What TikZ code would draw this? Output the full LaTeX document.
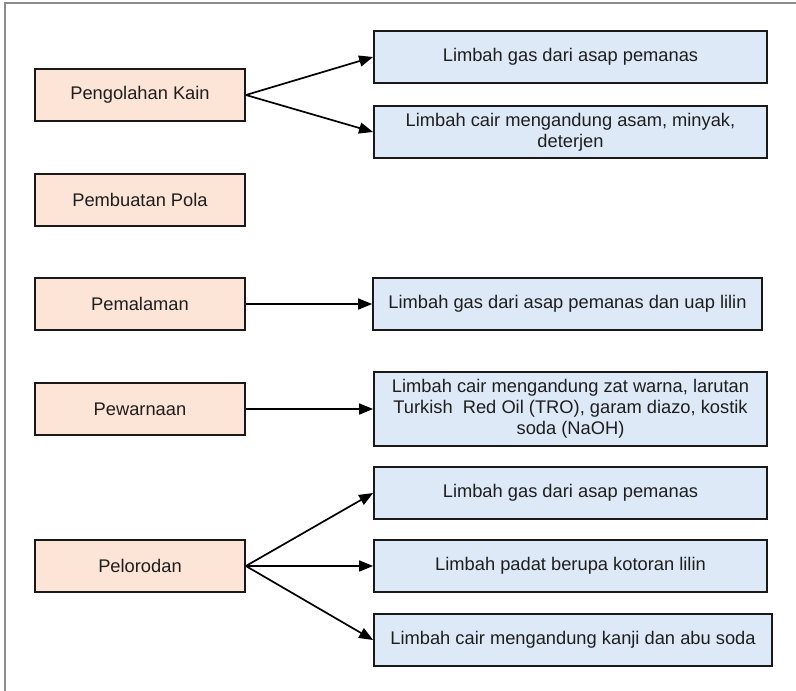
\documentclass[tikz,border=0pt]{standalone}
\usepackage{fontspec}
\setmainfont{Liberation Sans}
\usepackage{xcolor}
\usetikzlibrary{positioning,arrows.meta}

\definecolor{srcfill}{RGB}{252,228,214}
\definecolor{wastefill}{RGB}{222,233,247}
\definecolor{txt}{RGB}{30,30,30}
\definecolor{framecol}{RGB}{140,140,140}

\begin{document}
\begin{tikzpicture}[x=1pt, y=-1pt,
  box/.style={draw=black!90, line width=1.8pt, align=center, inner sep=2pt, text=txt,
    font=\fontsize{18.3}{21}\selectfont},
  src/.style={box, fill=srcfill, minimum width=210pt, minimum height=52pt},
  waste/.style={box, fill=wastefill, minimum width=393pt, minimum height=52pt},
  arrow/.style={-{Triangle[length=14pt, width=11pt]}, line width=1.7pt}
]
  \useasboundingbox (0,0) rectangle (796,691);
  \draw[framecol, line width=1.3pt] (5,691) -- (5,3) -- (796,3);

  % Proses (kiri)
  \node[src] (kain)  at (140, 95)  {Pengolahan Kain};
  \node[src] (pola)  at (140, 200) {Pembuatan Pola};
  \node[src] (malam) at (140, 304) {Pemalaman};
  \node[src] (warna) at (140, 409) {Pewarnaan};
  \node[src] (lorod) at (140, 566) {Pelorodan};

  % Limbah (kanan)
  \node[waste] (kaingas)  at (570.5, 57)  {Limbah gas dari asap pemanas};
  \node[waste] (kaincair) at (570.5, 132) {Limbah cair mengandung asam, minyak,\\deterjen};
  \node[waste, minimum width=389pt] (malamgas) at (567.5, 304) {Limbah gas dari asap pemanas dan uap lilin};
  \node[waste, minimum height=74pt] (warnacair) at (570.5, 409)
    {Limbah cair mengandung zat warna, larutan\\Turkish\ \ Red Oil (TRO), garam diazo, kostik\\soda (NaOH)};
  \node[waste] (lorodgas)   at (570.5, 493) {Limbah gas dari asap pemanas};
  \node[waste] (lorodpadat) at (570.5, 566) {Limbah padat berupa kotoran lilin};
  \node[waste, minimum width=398pt] (lorodcair) at (573, 640) {Limbah cair mengandung kanji dan abu soda};

  % Panah
  \draw[arrow] (kain.east) -- (kaingas.west);
  \draw[arrow] (kain.east) -- (kaincair.west);
  \draw[arrow] (malam) -- (malamgas);
  \draw[arrow] (warna) -- (warnacair);
  \draw[arrow] (lorod.east) -- (lorodgas.west);
  \draw[arrow] (lorod.east) -- (lorodpadat.west);
  \draw[arrow] (lorod.east) -- (lorodcair.west);
\end{tikzpicture}
\end{document}
